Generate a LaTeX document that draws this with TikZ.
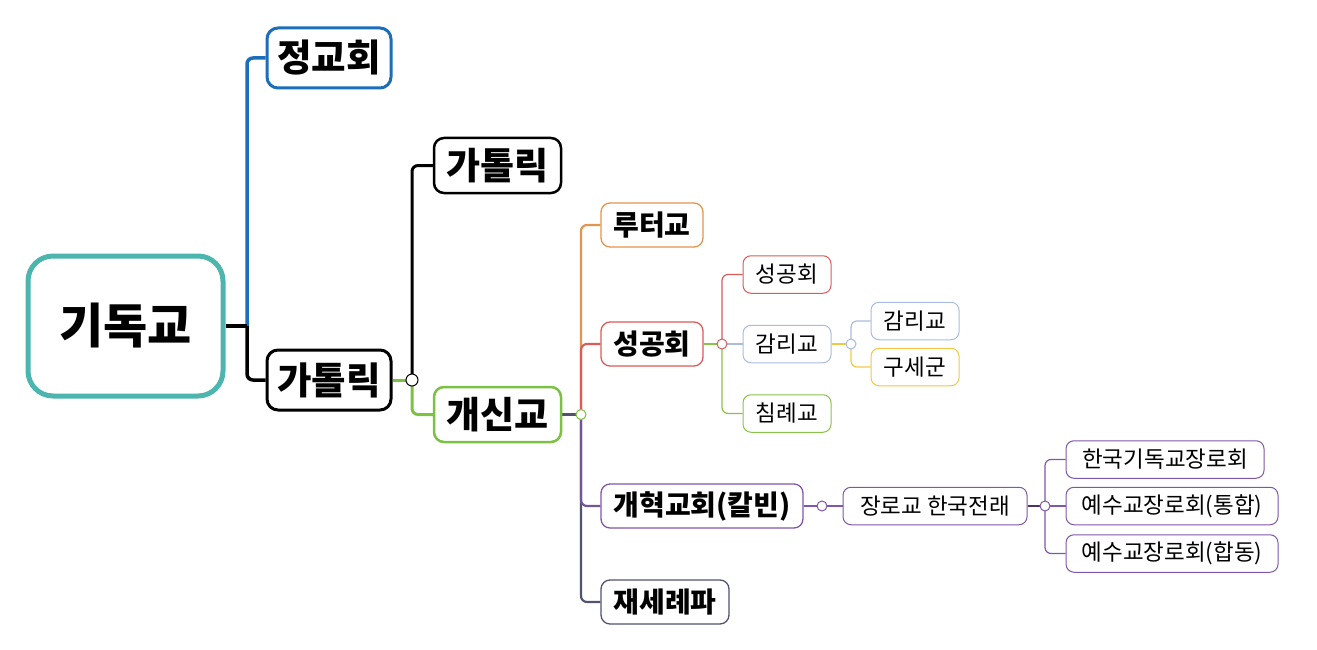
\documentclass[tikz,border=0pt]{standalone}
\usepackage{fontspec}
\setmainfont{Noto Sans CJK KR}
\usetikzlibrary{backgrounds}
\definecolor{cteal}{HTML}{4BB5AE}
\definecolor{cblue}{HTML}{1B6EB7}
\definecolor{cgreen}{HTML}{7CC143}
\definecolor{corange}{HTML}{E3944F}
\definecolor{cred}{HTML}{DD5A5A}
\definecolor{cpurple}{HTML}{7E57A8}
\definecolor{cslate}{HTML}{505370}
\definecolor{clblue}{HTML}{A9BCE0}
\definecolor{cyellow}{HTML}{F2C744}
\definecolor{csgreen}{HTML}{8BC34A}
\tikzset{
  b0/.style={draw=cteal, line width=5pt, rounded corners=25pt, fill=white, inner sep=0pt,
    minimum width=195pt, minimum height=140pt, font=\bfseries\fontsize{48}{54}\selectfont},
  b1/.style={line width=3pt, rounded corners=11pt, fill=white, inner sep=0pt,
    minimum width=124pt, minimum height=60pt, font=\bfseries\fontsize{37.5}{42}\selectfont},
  b2/.style={line width=2.5pt, rounded corners=10pt, fill=white, inner sep=0pt,
    minimum width=127pt, minimum height=55pt, font=\bfseries\fontsize{37}{42}\selectfont},
  b3/.style={line width=1.3pt, rounded corners=9pt, fill=white, inner sep=0pt,
    minimum height=44pt, font=\bfseries\fontsize{28}{32}\selectfont},
  b4/.style={line width=1pt, rounded corners=8pt, fill=white, inner sep=0pt,
    minimum height=37.5pt, font=\fontsize{22.5}{26}\selectfont},
  jn/.style={circle, fill=white, inner sep=0pt, minimum size=10pt, line width=1pt},
  lk/.style={rounded corners=6pt},
}
\begin{document}
\begin{tikzpicture}[x=1pt,y=-1pt]
\useasboundingbox (0,0) rectangle (1317,650);
% nodes
\node[b0] (root) at (125.5,326) {기독교};
\node[b1, draw=cblue] (jk) at (329,58) {정교회};
\node[b1, draw=black] (ca1) at (329,380) {가톨릭};
\node[b2, draw=black] (ca2) at (497.5,165.5) {가톨릭};
\node[b2, draw=cgreen] (pr) at (497.5,414.5) {개신교};
\node[b3, draw=corange, minimum width=102pt] (lu) at (652,225) {루터교};
\node[b3, draw=cred, minimum width=102pt] (an) at (652,344) {성공회};
\node[b3, draw=cpurple, minimum width=202pt] (ref) at (702,506) {개혁교회(칼빈)};
\node[b3, draw=cslate, minimum width=128pt] (ana) at (665,602) {재세례파};
\node[b4, draw=cred, minimum width=88pt] (an2) at (787,274.5) {성공회};
\node[b4, draw=clblue, minimum width=88pt] (me) at (787,344) {감리교};
\node[b4, draw=csgreen, minimum width=88pt] (ba) at (787,413.5) {침례교};
\node[b4, draw=clblue, minimum width=88pt] (me2) at (915,321) {감리교};
\node[b4, draw=cyellow, minimum width=88pt] (sa) at (915,367) {구세군};
\node[b4, draw=cpurple, minimum width=184pt] (pres) at (935,506) {장로교 한국전래};
\node[b4, draw=cpurple, minimum width=198pt] (k1) at (1165,459.5) {한국기독교장로회};
\node[b4, draw=cpurple, minimum width=212pt] (k2) at (1172,506) {예수교장로회(통합)};
\node[b4, draw=cpurple, minimum width=212pt] (k3) at (1172,553.5) {예수교장로회(합동)};
% junction points
\coordinate (jr) at (247,326);
\coordinate (jc) at (412,380);
\coordinate (jp) at (581,414.5);
\coordinate (js) at (722,344);
\coordinate (jm) at (851,344);
\coordinate (jf) at (822,506);
\coordinate (jq) at (1045,506);
% connectors (behind nodes)
\begin{pgfonlayer}{background}
  \draw[cblue, line width=3.5pt, lk] (jr) |- (jk.west);
  \draw[black, line width=3.5pt, lk] (jr) |- (ca1.west);
  \draw[black, line width=3.5pt] (root.east) -- (jr);
  \draw[black, line width=3pt, lk] (jc) |- (ca2.west);
  \draw[cgreen, line width=3pt, lk] (jc) |- (pr.west);
  \draw[cgreen, line width=3pt] (ca1.east) -- (jc);
  \draw[corange, line width=2.2pt, lk] (jp) |- (lu.west);
  \draw[cred, line width=2.2pt, lk] (jp) |- (an.west);
  \draw[cslate, line width=2.2pt, lk] (jp) |- (ana.west);
  \draw[cpurple!70!cslate, line width=2.2pt, lk] (jp) |- (ref.west);
  \draw[cslate, line width=3pt] (pr.east) -- (jp);
  \draw[cred, line width=1.2pt, lk] (js) |- (an2.west);
  \draw[csgreen, line width=1.2pt, lk] (js) |- (ba.west);
  \draw[clblue, line width=1.2pt] (js) -- (me.west);
  \draw[csgreen, line width=1.5pt] (an.east) -- (js);
  \draw[clblue, line width=1.2pt, lk] (jm) |- (me2.west);
  \draw[cyellow, line width=1.2pt, lk] (jm) |- (sa.west);
  \draw[cyellow, line width=1.5pt] (me.east) -- (jm);
  \draw[cpurple, line width=1.2pt] (ref.east) -- (jf);
  \draw[cpurple, line width=1.2pt] (jf) -- (pres.west);
  \draw[cpurple, line width=1.2pt, lk] (jq) |- (k1.west);
  \draw[cpurple, line width=1.2pt, lk] (jq) |- (k3.west);
  \draw[cpurple, line width=1.2pt] (jq) -- (k2.west);
  \draw[cpurple!60!black, line width=1.5pt] (pres.east) -- (jq);
\end{pgfonlayer}
% junction circles
\node[jn, draw=black, minimum size=12pt] (cc) at (jc) {};
\node[jn, draw=cgreen] (cp) at (jp) {};
\node[jn, draw=cred] (cs) at (js) {};
\node[jn, draw=clblue] (cm) at (jm) {};
\node[jn, draw=cpurple] (cf) at (jf) {};
\node[jn, draw=cpurple] (cq) at (jq) {};
\end{tikzpicture}
\end{document}
